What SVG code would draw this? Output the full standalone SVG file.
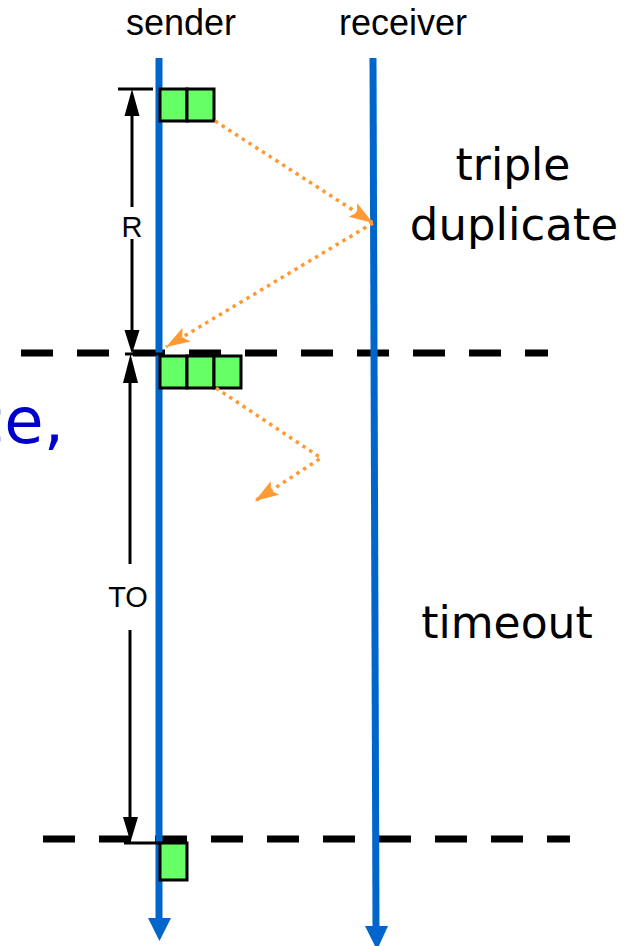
<svg xmlns="http://www.w3.org/2000/svg" width="625" height="946" viewBox="0 0 625 946">
<style>
.life{stroke:#0066cc;stroke-width:7;fill:none}
.lifehead{fill:#0066cc}
.pkt{fill:#66ff66;stroke:#000;stroke-width:3}
.dash{stroke:#000;stroke-width:7;stroke-dasharray:32 24;fill:none}
.cap{stroke:#000;stroke-width:3;fill:none}
.dim{stroke:#000;stroke-width:3;fill:none}
.ah{fill:#000}
.msg{stroke:#ff9933;stroke-width:3.5;stroke-dasharray:3.5 4.5;fill:none}
.sans{font-family:"Liberation Sans",Arial,sans-serif;fill:#000}
.comic{font-family:"Comic Sans MS","DejaVu Sans",sans-serif;fill:#000}
</style>
<defs>
<marker id="oa" markerUnits="userSpaceOnUse" markerWidth="26" markerHeight="16" refX="24" refY="8" orient="auto">
<path d="M0,0 L24,8 L0,16 L5,8 Z" fill="#ff9933"/>
</marker>
</defs>
<rect width="625" height="946" fill="#fff"/>
<g id="labels">
<text class="sans" x="181" y="35" font-size="36" text-anchor="middle">sender</text>
<text class="sans" x="403" y="35" font-size="36" text-anchor="middle">receiver</text>
<text class="comic" x="513" y="180" font-size="44" text-anchor="middle">triple</text>
<text class="comic" x="514" y="240" font-size="45" text-anchor="middle">duplicate</text>
<text class="comic" x="507" y="638" font-size="44" text-anchor="middle">timeout</text>
<text class="comic" x="64" y="443" font-size="64" text-anchor="end" style="fill:#0000cc">ce,</text>
</g>
<g id="dashed-lines">
<line class="dash" x1="21" y1="353" x2="548" y2="353"/>
<line class="dash" x1="43" y1="839" x2="570" y2="839"/>
</g>
<g id="sender">
<line class="life" x1="159" y1="58" x2="159" y2="920"/>
<path class="lifehead" d="M148,918 L171,918 L159.5,941 Z"/>
</g>
<g id="receiver">
<line class="life" x1="373" y1="58" x2="376" y2="928"/>
<path class="lifehead" d="M365,926 L388,926 L377,950 Z"/>
</g>
<g id="packets-1">
<rect class="pkt" x="160" y="89" width="27" height="32"/>
<rect class="pkt" x="187" y="89" width="27" height="32"/>
</g>
<g id="packets-2">
<rect class="pkt" x="160" y="356" width="27" height="32"/>
<rect class="pkt" x="187" y="356" width="27" height="32"/>
<rect class="pkt" x="214" y="356" width="27" height="32"/>
</g>
<g id="packet-3">
<rect class="pkt" x="160" y="843" width="27" height="37"/>
</g>
<g id="interval-R">
<line class="cap" x1="118" y1="89" x2="153" y2="89"/>
<line class="dim" x1="132" y1="112" x2="132" y2="207"/>
<line class="dim" x1="132" y1="239" x2="132" y2="333"/>
<path class="ah" d="M124.5,116 L139.5,116 L132,89 Z"/>
<path class="ah" d="M124.5,330 L139.5,330 L132,354 Z"/>
<text class="sans" x="132" y="237" font-size="29" text-anchor="middle">R</text>
</g>
<g id="interval-TO">
<line class="cap" x1="125" y1="354" x2="164" y2="354"/>
<line class="dim" x1="130" y1="378" x2="130" y2="564"/>
<line class="dim" x1="130" y1="630" x2="130" y2="820"/>
<path class="ah" d="M123,383 L138,383 L130.5,354 Z"/>
<path class="ah" d="M123,817 L138,817 L130.5,842 Z"/>
<line class="cap" x1="124" y1="843" x2="160" y2="843"/>
<text class="sans" x="128" y="607" font-size="29" text-anchor="middle">TO</text>
</g>
<g id="connectors">
<polyline class="msg" points="215,121 373,223" marker-end="url(#oa)"/>
<polyline class="msg" points="373,223 166,347" marker-end="url(#oa)"/>
<polyline class="msg" points="216,388 321,458 255,501" marker-end="url(#oa)"/>
</g>
</svg>
